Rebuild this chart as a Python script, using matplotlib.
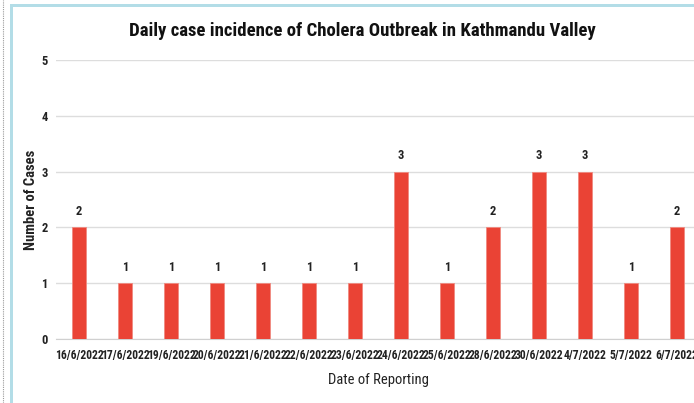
import matplotlib.pyplot as plt
from matplotlib.patches import Rectangle
from matplotlib.lines import Line2D

# Data
dates = ["16/6/2022", "17/6/2022", "19/6/2022", "20/6/2022", "21/6/2022",
         "22/6/2022", "23/6/2022", "24/6/2022", "25/6/2022", "28/6/2022",
         "30/6/2022", "4/7/2022", "5/7/2022", "6/7/2022"]
cases = [2, 1, 1, 1, 1, 1, 1, 3, 1, 2, 3, 3, 1, 2]

plt.rcParams['font.family'] = ['Roboto Condensed', 'Archivo Narrow', 'DejaVu Sans']

W, H = 694, 403
fig = plt.figure(figsize=(W / 100, H / 100), dpi=100)
fig.patch.set_facecolor("white")

# light blue frame and dotted edge of the screenshot
fig.add_artist(Rectangle((10 / W, 0), 3 / W, (H - 4) / H, transform=fig.transFigure,
                         color="#b3dde7", lw=0))
fig.add_artist(Rectangle((10 / W, (H - 7) / H), (W - 10) / W, 3 / H, transform=fig.transFigure,
                         color="#b3dde7", lw=0))
fig.add_artist(Line2D([3 / W, 3 / W], [0, 1], transform=fig.transFigure,
                      color="#999999", lw=0.8, linestyle=(0, (1, 1))))

# plot area (runs past the right edge, like the cropped screenshot)
left, right = 56, 700
y0, y5 = 339, 60
ax = fig.add_axes([left / W, (H - y0) / H, (right - left) / W, (y0 - y5) / H])

x = range(len(dates))
ax.bar(x, cases, width=0.3, color="#ea4335", edgecolor="#f08a80", linewidth=0.6, zorder=3)
for xi, v in zip(x, cases):
    ax.text(xi, v + 0.17, str(v), ha="center", va="bottom", fontsize=9,
            fontweight="bold", color="#222222")

ax.set_xlim(-0.5, len(dates) - 0.5)
ax.set_ylim(0, 5)
ax.set_yticks(range(6))
ax.yaxis.grid(True, color="#dddddd", linewidth=1, zorder=0)
for s in ["top", "right", "left"]:
    ax.spines[s].set_visible(False)
ax.spines["bottom"].set_color("#d0d0d0")
ax.tick_params(length=0)
ax.tick_params(axis="y", pad=6)
ax.tick_params(axis="x", pad=7)
ax.set_xticks(list(x))
ax.set_xticklabels(dates, fontsize=8.4, fontweight="bold", color="#222222")
for lbl in ax.get_yticklabels():
    lbl.set_fontsize(9)
    lbl.set_fontweight("bold")
    lbl.set_color("#222222")

ax.set_xlabel("Date of Reporting", fontsize=10.5, color="#222222", labelpad=8)
fig.text(31 / W, (H - 200) / H, "Number of Cases", rotation=90, ha="center", va="center",
         fontsize=10.5, fontweight="bold", color="#222222")
fig.text(362 / W, (H - 31) / H, "Daily case incidence of Cholera Outbreak in Kathmandu Valley",
         ha="center", va="center", fontsize=13.5, fontweight="bold", color="#111111")

fig.savefig("out.png", dpi=100)
